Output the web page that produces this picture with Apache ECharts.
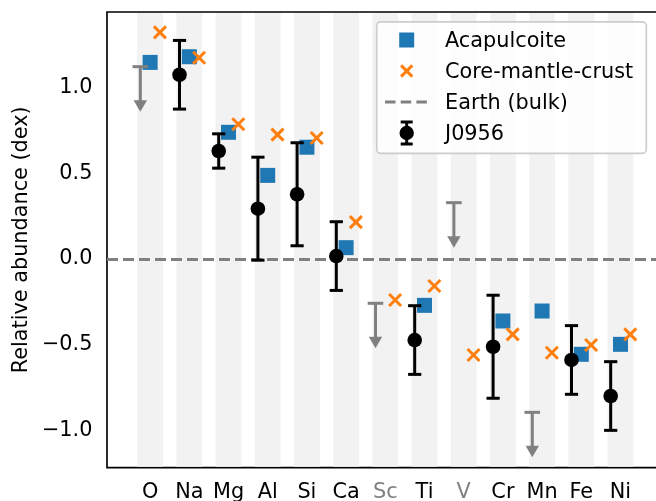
<!DOCTYPE html>
<html>
<head>
<meta charset="utf-8">
<script src="https://cdn.jsdelivr.net/npm/echarts@6/dist/echarts.min.js"></script>
<style>
html, body { margin: 0; padding: 0; background: #fff; }
#chart { width: 656px; height: 501px; }
</style>
</head>
<body>
<div id="chart"></div>
<script>
// Element abundances relative to bulk Earth (dex)
const elements = ['O', 'Na', 'Mg', 'Al', 'Si', 'Ca', 'Sc', 'Ti', 'V', 'Cr', 'Mn', 'Fe', 'Ni'];
// elements where J0956 only has an upper limit are labelled in grey
const limitOnly = ['Sc', 'V'];
const acapulcoite = [1.145, 1.178, 0.738, 0.487, 0.651, 0.066, null, -0.270, null, -0.361, -0.303, -0.555, -0.497];
const coreMantleCrust = [1.320, 1.172, 0.785, 0.724, 0.705, 0.215, -0.239, -0.157, -0.559, -0.439, -0.546, -0.501, -0.439];
const j0956 = [null, 1.073, 0.629, 0.293, 0.377, 0.017, null, -0.472, null, -0.511, null, -0.588, -0.798];
const j0956Err = [null, 0.20, 0.10, 0.30, 0.30, 0.20, null, 0.20, null, 0.30, null, 0.20, 0.20];
const j0956Upper = [1.12, null, null, null, null, null, -0.258, null, 0.328, null, -0.893, null, null];
const yTicks = [-1.0, -0.5, 0.0, 0.5, 1.0];
const earthBulk = 0.0;

// styling
const FONT = 'DejaVu Sans';
const FS = 20.8;
const BLUE = '#1f77b4';
const ORANGE = '#ff7f0e';
const GREY = '#808080';
const SHIFT = 0.25;        // horizontal offset of the model / measured markers
const BAND_HALF = 0.33;    // half-width of the shaded element bands
const ARROW_LEN = 0.262;   // length of the upper-limit arrows (dex)
const TOP_Z = 100;

const idx = elements.map((_, i) => i);

function crossPath(cx, cy, h, z) {
  const extra = z === undefined ? {} : { z: z };
  return [
    Object.assign({ type: 'line', shape: { x1: cx - h, y1: cy - h, x2: cx + h, y2: cy + h }, style: { stroke: ORANGE, lineWidth: 3 } }, extra),
    Object.assign({ type: 'line', shape: { x1: cx - h, y1: cy + h, x2: cx + h, y2: cy - h }, style: { stroke: ORANGE, lineWidth: 3 } }, extra)
  ];
}

const chart = echarts.init(document.getElementById('chart'), null, { renderer: 'canvas' });

const legendRows = [40, 71, 102, 133];
const LX = 406.7, TX = 445;

function legendText(text, y) {
  return { type: 'text', z: TOP_Z + 1, x: TX, y: y + 1.2,
    style: { text: text, fontSize: FS, fontFamily: FONT, fill: '#000', verticalAlign: 'middle' } };
}

const option = {
  animation: false,
  backgroundColor: '#fff',
  grid: {
    left: 107, top: 12, width: 556.6, height: 455.7,
    show: true, borderColor: '#000', borderWidth: 1.67, backgroundColor: 'transparent',
    outerBoundsMode: 'none', containLabel: false
  },
  xAxis: {
    type: 'value', min: -1.1, max: 13.1,
    axisLine: { show: false },
    splitLine: { show: false },
    axisTick: { show: true, length: 7.3, lineStyle: { color: '#000', width: 1.67 }, customValues: idx },
    axisLabel: {
      customValues: idx, margin: 14.6, fontSize: FS, fontFamily: FONT, color: '#000',
      formatter: v => {
        const name = elements[Math.round(v)];
        return limitOnly.includes(name) ? '{g|' + name + '}' : '{k|' + name + '}';
      },
      rich: {
        g: { color: GREY, fontSize: FS, fontFamily: FONT },
        k: { color: '#000', fontSize: FS, fontFamily: FONT }
      }
    }
  },
  yAxis: {
    type: 'value', min: -1.2155, max: 1.4385,
    axisLine: { show: false },
    splitLine: { show: false },
    axisTick: { show: true, length: 7.3, lineStyle: { color: '#000', width: 1.67 }, customValues: yTicks },
    axisLabel: {
      customValues: yTicks, margin: 14.6, fontSize: FS, fontFamily: FONT, color: '#000',
      padding: [2.6, 0, 0, 0],
      formatter: v => v.toFixed(1).replace('-', '\u2212')
    }
  },
  graphic: [
    {
      type: 'text', x: 21.5, y: 239.8, rotation: Math.PI / 2,
      style: { text: 'Relative abundance (dex)', fontSize: FS, fontFamily: FONT, fill: '#000', align: 'center', verticalAlign: 'middle' }
    },
    { type: 'rect', z: TOP_Z, shape: { x: 376.7, y: 21.8, width: 269.6, height: 131.5, r: 4 },
      style: { fill: 'rgba(255,255,255,0.8)', stroke: '#cccccc', lineWidth: 1.67 } },
    { type: 'rect', z: TOP_Z + 1, shape: { x: LX - 7.5, y: legendRows[0] - 7.5, width: 15, height: 15 }, style: { fill: BLUE } },
    ...crossPath(LX, legendRows[1], 5.6, TOP_Z + 1),
    { type: 'line', z: TOP_Z + 1, shape: { x1: 385, y1: legendRows[2], x2: 428.3, y2: legendRows[2] },
      style: { stroke: GREY, lineWidth: 3.1, lineDash: [10.5, 5.2] } },
    { type: 'line', z: TOP_Z + 1, shape: { x1: LX, y1: legendRows[3] - 11, x2: LX, y2: legendRows[3] + 11 }, style: { stroke: '#000', lineWidth: 3 } },
    { type: 'line', z: TOP_Z + 1, shape: { x1: LX - 6, y1: legendRows[3] - 11, x2: LX + 6, y2: legendRows[3] - 11 }, style: { stroke: '#000', lineWidth: 3 } },
    { type: 'line', z: TOP_Z + 1, shape: { x1: LX - 6, y1: legendRows[3] + 11, x2: LX + 6, y2: legendRows[3] + 11 }, style: { stroke: '#000', lineWidth: 3 } },
    { type: 'circle', z: TOP_Z + 2, shape: { cx: LX, cy: legendRows[3], r: 7.2 }, style: { fill: '#000' } },
    legendText('Acapulcoite', legendRows[0]),
    legendText('Core-mantle-crust', legendRows[1]),
    legendText('Earth (bulk)', legendRows[2]),
    legendText('J0956', legendRows[3])
  ],
  series: [
    {
      // shaded band behind every element
      type: 'custom', name: 'bands', z: 1, silent: true,
      encode: { x: 0, y: 1 },
      data: idx.map(i => [i, 0]),
      renderItem: (params, api) => {
        const cs = params.coordSys;
        const i = api.value(0);
        const x0 = api.coord([i - BAND_HALF, 0])[0];
        const x1 = api.coord([i + BAND_HALF, 0])[0];
        return { type: 'rect', shape: { x: x0, y: cs.y + 1, width: x1 - x0, height: cs.height - 2 }, style: { fill: '#f2f2f2' } };
      }
    },
    {
      type: 'line', name: 'Earth (bulk)', z: 2, data: [], silent: true,
      markLine: {
        silent: true, symbol: ['none', 'none'], label: { show: false },
        lineStyle: { color: GREY, width: 3.1, type: [11, 5] },
        emphasis: { disabled: true },
        data: [{ yAxis: earthBulk }]
      }
    },
    {
      type: 'scatter', name: 'Acapulcoite', z: 3, symbol: 'rect', symbolSize: 15,
      itemStyle: { color: BLUE, opacity: 1 },
      data: idx.filter(i => acapulcoite[i] !== null).map(i => [i, acapulcoite[i]])
    },
    {
      type: 'custom', name: 'Core-mantle-crust', z: 4,
      encode: { x: 0, y: 1 },
      data: idx.map(i => [i + SHIFT, coreMantleCrust[i]]),
      renderItem: (params, api) => {
        const p = api.coord([api.value(0), api.value(1)]);
        return { type: 'group', children: crossPath(p[0], p[1], 6) };
      }
    },
    {
      // upper limits: cap, shaft and downward arrowhead
      type: 'custom', name: 'J0956 upper limits', z: 5,
      encode: { x: 0, y: 1 },
      data: idx.filter(i => j0956Upper[i] !== null).map(i => [i - SHIFT, j0956Upper[i]]),
      renderItem: (params, api) => {
        const x = api.value(0), v = api.value(1);
        const top = api.coord([x, v]);
        const tip = api.coord([x, v - ARROW_LEN]);
        const headH = 11.5, headW = 6.7;
        const st = { stroke: GREY, lineWidth: 3 };
        return {
          type: 'group', children: [
            { type: 'line', shape: { x1: top[0] - 7.8, y1: top[1], x2: top[0] + 7.8, y2: top[1] }, style: st },
            { type: 'line', shape: { x1: top[0], y1: top[1], x2: tip[0], y2: tip[1] - headH + 1 }, style: st },
            { type: 'polygon', shape: { points: [[tip[0] - headW, tip[1] - headH], [tip[0] + headW, tip[1] - headH], [tip[0], tip[1]]] },
              style: { fill: GREY } }
          ]
        };
      }
    },
    {
      type: 'custom', name: 'J0956 errors', z: 6,
      encode: { x: 0, y: 1 },
      data: idx.filter(i => j0956[i] !== null).map(i => [i - SHIFT, j0956[i], j0956Err[i]]),
      renderItem: (params, api) => {
        const x = api.value(0), v = api.value(1), e = api.value(2);
        const hi = api.coord([x, v + e]);
        const lo = api.coord([x, v - e]);
        const st = { stroke: '#000', lineWidth: 3 };
        const cap = 6.6;
        return {
          type: 'group', children: [
            { type: 'line', shape: { x1: hi[0], y1: hi[1], x2: lo[0], y2: lo[1] }, style: st },
            { type: 'line', shape: { x1: hi[0] - cap, y1: hi[1], x2: hi[0] + cap, y2: hi[1] }, style: st },
            { type: 'line', shape: { x1: lo[0] - cap, y1: lo[1], x2: lo[0] + cap, y2: lo[1] }, style: st }
          ]
        };
      }
    },
    {
      type: 'scatter', name: 'J0956', z: 7, symbol: 'circle', symbolSize: 14.6,
      itemStyle: { color: '#000', opacity: 1 },
      data: idx.filter(i => j0956[i] !== null).map(i => [i - SHIFT, j0956[i]])
    }
  ]
};

chart.setOption(option);
</script>
</body>
</html>
